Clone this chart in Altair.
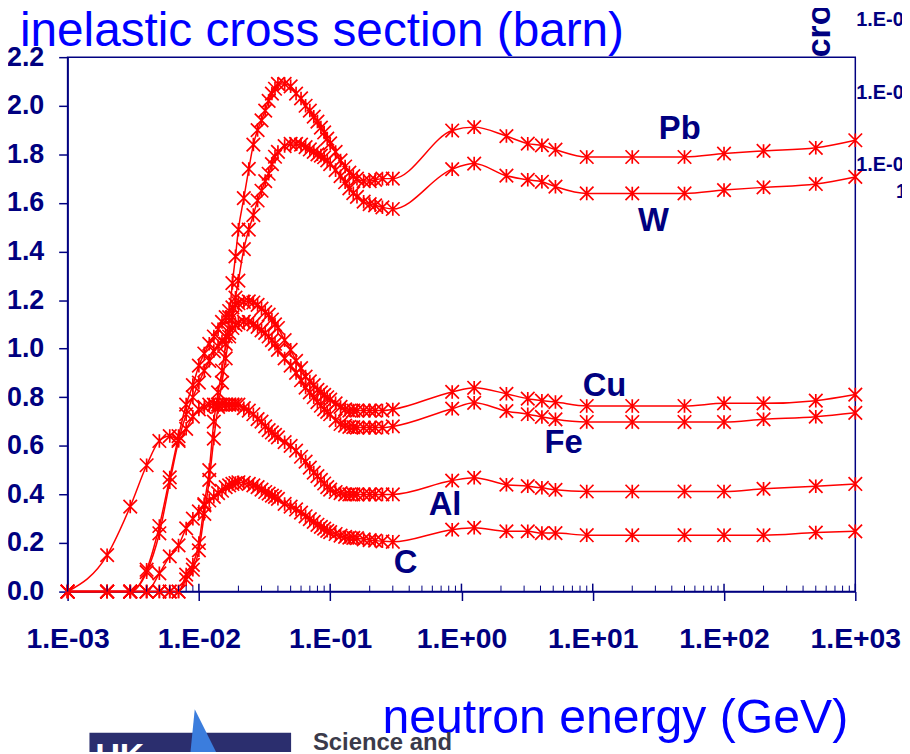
import altair as alt
import pandas as pd

NAVY = "#000080"
RED = "#FF0000"
FONT = "Liberation Sans, Arial, sans-serif"

# ---------------- data ----------------
energy = [0.001, 0.002, 0.003, 0.004, 0.005, 0.006, 0.007, 0.008, 0.009, 0.010,
          0.011, 0.012, 0.013, 0.014, 0.015, 0.016, 0.017, 0.018, 0.019, 0.020,
          0.022, 0.024, 0.026, 0.028, 0.030, 0.032, 0.034, 0.036, 0.038, 0.040,
          0.045, 0.050, 0.055, 0.060, 0.065, 0.070, 0.075, 0.080, 0.085, 0.090,
          0.095, 0.10, 0.11, 0.12, 0.13, 0.14, 0.15, 0.16, 0.18, 0.20,
          0.22, 0.25, 0.30, 0.85, 1.25, 2.2, 3.2, 4.1, 5.2, 9.0,
          20, 50, 100, 200, 500, 1000]

pb = [0, 0, 0, 0, 0, 0, 0, 0.07, 0.11, 0.20,
      0.36, 0.50, 0.70, 0.82, 0.91, 1.02, 1.13, 1.27, 1.38, 1.49,
      1.62, 1.74, 1.84, 1.90, 1.94, 1.98, 2.02, 2.05, 2.07, 2.09,
      2.09, 2.08, 2.05, 2.03, 2.00, 1.98, 1.955, 1.935, 1.91, 1.89,
      1.865, 1.845, 1.81, 1.775, 1.75, 1.725, 1.71, 1.70, 1.69, 1.69,
      1.695, 1.70, 1.70, 1.898, 1.912, 1.875, 1.844, 1.837, 1.819, 1.789,
      1.789, 1.789, 1.803, 1.814, 1.827, 1.858]

w = [0, 0, 0, 0, 0, 0, 0, 0.05, 0.09, 0.17,
     0.32, 0.46, 0.63, 0.76, 0.86, 0.96, 1.05, 1.13, 1.21, 1.28,
     1.41, 1.49, 1.55, 1.61, 1.65, 1.69, 1.72, 1.76, 1.79, 1.81,
     1.834, 1.843, 1.843, 1.84, 1.83, 1.82, 1.81, 1.80, 1.795, 1.788,
     1.775, 1.76, 1.735, 1.71, 1.685, 1.66, 1.64, 1.625, 1.605, 1.595,
     1.59, 1.582, 1.575, 1.739, 1.762, 1.712, 1.695, 1.687, 1.667, 1.639,
     1.639, 1.639, 1.653, 1.664, 1.678, 1.707]

cu = [0, 0, 0, 0.09, 0.27, 0.47, 0.64, 0.77, 0.85, 0.93,
      0.98, 1.02, 1.05, 1.08, 1.11, 1.13, 1.155, 1.17, 1.18, 1.187,
      1.193, 1.195, 1.19, 1.18, 1.165, 1.15, 1.14, 1.12, 1.10, 1.085,
      1.035, 0.995, 0.95, 0.92, 0.885, 0.865, 0.85, 0.83, 0.82, 0.81,
      0.80, 0.79, 0.775, 0.76, 0.75, 0.745, 0.745, 0.745, 0.745, 0.745,
      0.745, 0.745, 0.75, 0.822, 0.839, 0.814, 0.794, 0.786, 0.780, 0.764,
      0.764, 0.764, 0.775, 0.775, 0.786, 0.811]

fe = [0, 0, 0, 0.08, 0.24, 0.45, 0.62, 0.73, 0.80, 0.86,
      0.91, 0.95, 0.99, 1.01, 1.03, 1.05, 1.065, 1.085, 1.098, 1.105,
      1.111, 1.11, 1.10, 1.09, 1.075, 1.065, 1.05, 1.035, 1.02, 0.995,
      0.96, 0.93, 0.90, 0.87, 0.84, 0.82, 0.80, 0.78, 0.765, 0.75,
      0.74, 0.73, 0.705, 0.69, 0.683, 0.678, 0.677, 0.675, 0.675, 0.675,
      0.675, 0.675, 0.68, 0.753, 0.777, 0.743, 0.730, 0.719, 0.709, 0.698,
      0.698, 0.698, 0.698, 0.709, 0.720, 0.736]

al = [0, 0.15, 0.35, 0.52, 0.62, 0.64, 0.625, 0.67, 0.72, 0.75,
      0.76, 0.77, 0.77, 0.77, 0.77, 0.77, 0.77, 0.77, 0.77, 0.77,
      0.755, 0.745, 0.73, 0.71, 0.70, 0.68, 0.665, 0.655, 0.645, 0.635,
      0.615, 0.60, 0.58, 0.555, 0.535, 0.51, 0.49, 0.475, 0.46, 0.445,
      0.43, 0.42, 0.41, 0.405, 0.40, 0.40, 0.40, 0.40, 0.40, 0.40,
      0.40, 0.40, 0.40, 0.457, 0.469, 0.440, 0.434, 0.427, 0.419, 0.412,
      0.412, 0.412, 0.412, 0.423, 0.434, 0.443]

c = [0, 0, 0, 0, 0.075, 0.145, 0.19, 0.26, 0.30, 0.33,
     0.355, 0.375, 0.39, 0.405, 0.415, 0.43, 0.437, 0.443, 0.447, 0.45,
     0.448, 0.443, 0.437, 0.43, 0.42, 0.41, 0.403, 0.395, 0.39, 0.382,
     0.361, 0.35, 0.338, 0.325, 0.31, 0.298, 0.287, 0.275, 0.266, 0.259,
     0.25, 0.245, 0.237, 0.23, 0.225, 0.222, 0.221, 0.22, 0.215, 0.212,
     0.21, 0.207, 0.205, 0.255, 0.263, 0.248, 0.248, 0.241, 0.241, 0.232,
     0.232, 0.232, 0.232, 0.232, 0.243, 0.248]

elements = ["Pb", "W", "Cu", "Fe", "Al", "C"]
series = [pb, w, cu, fe, al, c]
label_energy = [46, 29, 12.3, 6.0, 0.75, 0.375]
label_value = [1.904, 1.527, 0.844, 0.611, 0.357, 0.116]

x_ticks = [0.001, 0.01, 0.1, 1, 10, 100, 1000]
x_tick_labels = ["1.E-03", "1.E-02", "1.E-01", "1.E+00", "1.E+01", "1.E+02", "1.E+03"]
y_ticks = [0.0, 0.2, 0.4, 0.6, 0.8, 1.0, 1.2, 1.4, 1.6, 1.8, 2.0, 2.2]
minor_ticks = [m * d for d in [0.001, 0.01, 0.1, 1, 10, 100] for m in [2, 3, 4, 5, 6, 7, 8, 9]]

title_text = "inelastic cross section (barn)"
x_title_text = "neutron energy (GeV)"
right_labels = ["1.E-02", "1.E-03", "1.E-04", "1.E-05"]

# ---------------- tables ----------------
rows = []
for name, vals in zip(elements, series):
    for e, v in zip(energy, vals):
        rows.append({"energy": e, "xs": v, "element": name})
df = pd.DataFrame(rows)
labels_df = pd.DataFrame({"lx": label_energy, "ly": label_value, "name": elements})
minor_df = pd.DataFrame({"t": minor_ticks})
major_df = pd.DataFrame({"t": x_ticks})

W, H = 793, 538
xscale = alt.Scale(type="log", domain=[0.001, 1000], nice=False)
yscale = alt.Scale(domain=[0, 2.2], nice=False, zero=False)

label_expr = "[" + ",".join("'%s'" % s for s in x_tick_labels) + "][round(log(datum.value)/LN10)+3]"

xaxis = alt.Axis(values=x_ticks, labelExpr=label_expr, title=None, grid=False,
                 tickSize=9, tickWidth=1.5, tickColor=NAVY, domainColor=NAVY, domainWidth=1.5,
                 labelFont=FONT, labelFontSize=28.5, labelFontWeight="bold", labelColor=NAVY,
                 labelPadding=24, labelFlush=False, labelOverlap=False)
yaxis = alt.Axis(values=y_ticks, format=".1f", title=None, grid=False,
                 tickSize=9, tickWidth=1.5, tickColor=NAVY, domainColor=NAVY, domainWidth=1.5,
                 labelFont=FONT, labelFontSize=27, labelFontWeight="bold", labelColor=NAVY,
                 labelPadding=15, labelFlush=False, labelOverlap=False)


def X(field):
    return alt.X(field, scale=xscale, axis=xaxis)


def Y(field):
    return alt.Y(field, scale=yscale, axis=yaxis)


base = alt.Chart(df)
lines = base.mark_line(color=RED, strokeWidth=1.5, interpolate="monotone").encode(
    x=X("energy:Q"), y=Y("xs:Q"), detail="element:N")
STAR = "M-1,-1L1,1M-1,1L1,-1M0,-1L0,1"
points = base.mark_point(shape=STAR, size=185, filled=False, color=RED, strokeWidth=1.7, opacity=1).encode(
    x=X("energy:Q"), y=Y("xs:Q"))

minor = alt.Chart(minor_df).mark_rule(color=NAVY, strokeWidth=1).encode(
    x=X("t:Q"), y=alt.value(H - 6), y2=alt.value(H))
major_in = alt.Chart(major_df).mark_rule(color=NAVY, strokeWidth=1.5).encode(
    x=X("t:Q"), y=alt.value(H - 8), y2=alt.value(H))

labels = alt.Chart(labels_df).mark_text(font=FONT, fontSize=33, fontWeight="bold", color=NAVY,
                                        align="center", baseline="middle").encode(
    x=X("lx:Q"), y=Y("ly:Q"), text="name:N")


def note(text, x, y, **kw):
    return alt.Chart(pd.DataFrame({"t": [text]})).mark_text(font=FONT, **kw).encode(
        x=alt.value(x), y=alt.value(y), text="t:N")


title = note(title_text, -48, -11, fontSize=48, color="#0000FF", align="left", baseline="alphabetic")
xtitle = note(x_title_text, 317, 680, fontSize=48.5, color="#0000FF", align="left", baseline="alphabetic")
r1 = note(right_labels[0], 794, -31, fontSize=20, fontWeight="bold", color=NAVY, align="left", baseline="alphabetic")
r2 = note(right_labels[1], 794, 42, fontSize=20, fontWeight="bold", color=NAVY, align="left", baseline="alphabetic")
r3 = note(right_labels[2], 794, 115, fontSize=20, fontWeight="bold", color=NAVY, align="left", baseline="alphabetic")
r4 = note(right_labels[3], 834, 142, fontSize=20, fontWeight="bold", color=NAVY, align="left", baseline="alphabetic")
cros = note("cross section", 768, 0, fontSize=34, fontWeight="bold", color=NAVY, align="left",
            baseline="alphabetic", angle=270)

logo_rect = alt.Chart(pd.DataFrame({"a": [0]})).mark_rect(color="#2b2e6e").encode(
    x=alt.value(22), x2=alt.value(225), y=alt.value(680), y2=alt.value(720))
logo_tri = alt.Chart(pd.DataFrame({"a": [0]})).mark_point(
    shape="M0,-1L1,1L-0.2,1Z", size=2200, filled=True, color="#3b7ddd", opacity=1).encode(
    x=alt.value(128), y=alt.value(680))
logo_text = note("UK", 28, 715, fontSize=34, fontWeight="bold", color="white", align="left", baseline="alphabetic")
sci = note("Science and", 247, 697, fontSize=24, fontWeight="bold", color="#3a3a4a", align="left", baseline="alphabetic")

chart = alt.layer(
    lines, points, minor, major_in, labels, title, xtitle, r1, r2, r3, r4, cros,
    logo_rect, logo_tri, logo_text, sci,
).properties(
    width=W, height=H,
    padding={"left": 60, "top": 47, "right": 47, "bottom": 159},
    autosize=alt.AutoSizeParams(type="none"),
    background="white",
).configure_view(stroke=NAVY, strokeWidth=1.5)

chart.save("out.html", embed_options={"renderer": "svg", "actions": False})
